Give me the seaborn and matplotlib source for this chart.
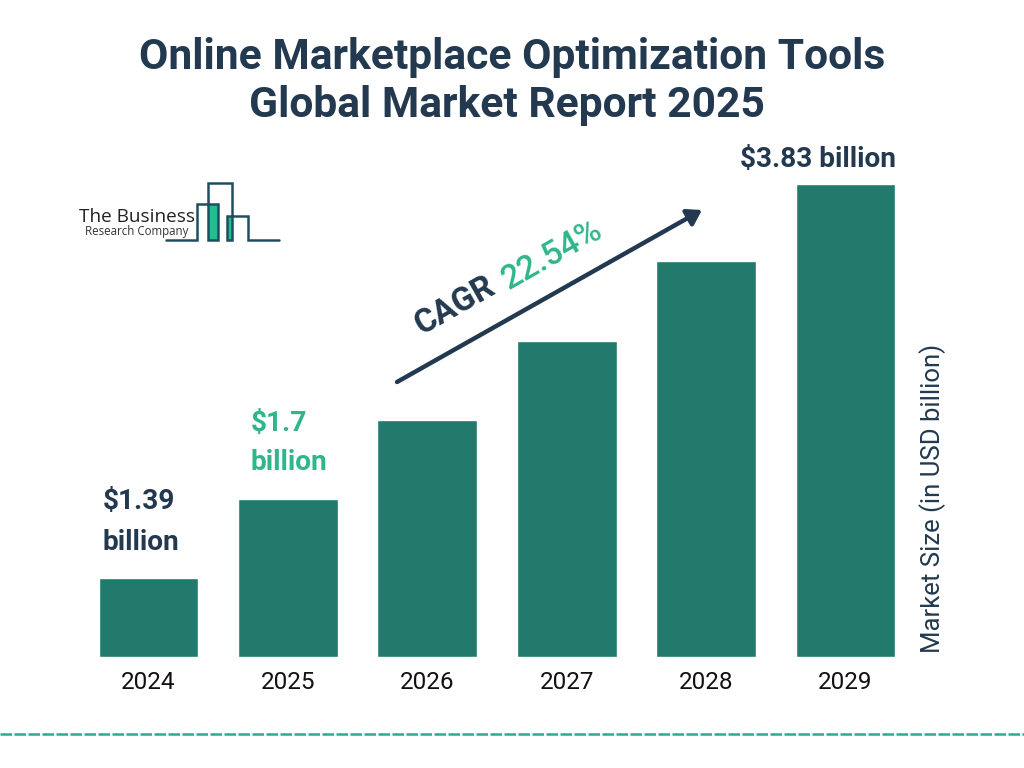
import numpy as np
import pandas as pd
import seaborn as sns
import matplotlib.pyplot as plt

# values as drawn on the picture (the bars step evenly, not with the real numbers)
years = ["2024", "2025", "2026", "2027", "2028", "2029"]
bar_heights = [0.64, 1.28, 1.92, 2.56, 3.2, 3.83]

NAVY = "#22394f"
BAR = "#217a6b"
GREEN = "#2fb68a"

W, H = 1024, 768

sns.set_theme(style="white")
plt.rcParams['font.family'] = ['Roboto', 'DejaVu Sans']

fig = plt.figure(figsize=(W / 100, H / 100), dpi=100, facecolor="white")

# overlay in pixel coords for the logo, arrow and footer line
bg = fig.add_axes([0, 0, 1, 1])
bg.set_xlim(0, W)
bg.set_ylim(H, 0)
bg.axis("off")

ax = fig.add_axes([78.8 / W, 1 - 657.3 / H, (915.2 - 78.8) / W, (657.3 - 183.5) / H])
df = pd.DataFrame({"year": years, "size": bar_heights})
sns.barplot(data=df, x="year", y="size", color=BAR, saturation=1, width=0.715, ax=ax)
ax.set_ylim(0, 3.83)
ax.set_xlim(-0.5, 5.5)
ax.patch.set_alpha(0)
ax.set_xlabel("")
ax.set_ylabel("")
ax.set_yticks([])
sns.despine(ax=ax, left=True, bottom=True, top=True, right=True)
ax.tick_params(axis="x", length=0, pad=10, labelsize=17.5, labelcolor="#111111")

# title
bg.text(512, 57, "Online Marketplace Optimization Tools", ha="center", va="center",
        fontsize=30.7, fontweight="bold", color=NAVY)
bg.text(507, 105, "Global Market Report 2025", ha="center", va="center",
        fontsize=30.7, fontweight="bold", color=NAVY)

# value labels
bg.text(103, 502, "$1.39", ha="left", va="center", fontsize=20.2, fontweight="bold", color=NAVY)
bg.text(103, 543, "billion", ha="left", va="center", fontsize=20.2, fontweight="bold", color=NAVY)
bg.text(251, 424, "$1.7", ha="left", va="center", fontsize=20.2, fontweight="bold", color=GREEN)
bg.text(251, 463, "billion", ha="left", va="center", fontsize=20.2, fontweight="bold", color=GREEN)
bg.text(818, 160, "$3.83 billion", ha="center", va="center", fontsize=20.2, fontweight="bold", color=NAVY)

# side label
bg.text(933, 498, "Market Size (in USD billion)", rotation=90, ha="center", va="center",
        fontsize=18.5, color=NAVY)

# CAGR arrow
bg.annotate("", xy=(702, 210), xytext=(397, 382),
            arrowprops=dict(arrowstyle="-|>,head_length=0.7,head_width=0.45", color=NAVY, lw=3.2,
                            shrinkA=0, shrinkB=0))
bg.text(455, 306, "CAGR", rotation=29.5, ha="center", va="center", fontsize=23.7,
        fontweight="bold", color=NAVY)
bg.text(552, 255, "22.54%", rotation=29.5, ha="center", va="center", fontsize=24,
        fontweight=500, color=GREEN)

# logo
LOGO = "#1f4e5f"
bg.fill_between([208, 218], 204, 240, color="#1fbf8f", lw=0)
bg.fill_between([227, 232], 216, 240, color="#1fbf8f", lw=0)
bg.plot([166, 197, 197, 218, 218, 208, 208, 232, 232, 227, 227, 248, 248, 279],
        [240, 240, 204, 204, 240, 240, 183, 183, 240, 240, 216, 216, 240, 240],
        color=LOGO, lw=1.8, solid_joinstyle="miter")
bg.text(79, 217, "The Business", ha="left", va="center", fontsize=13.7, color="#222222",
        family=["Open Sans", "DejaVu Sans"])
bg.text(85, 231, "Research Company", ha="left", va="center", fontsize=8.3, color="#333333",
        family=["Open Sans", "DejaVu Sans"])

# footer dashes
bg.plot([0, W], [734, 734], color="#2aa898", lw=1.8, dashes=(4.6, 1.0))

fig.savefig("out.png", dpi=100, facecolor="white")
